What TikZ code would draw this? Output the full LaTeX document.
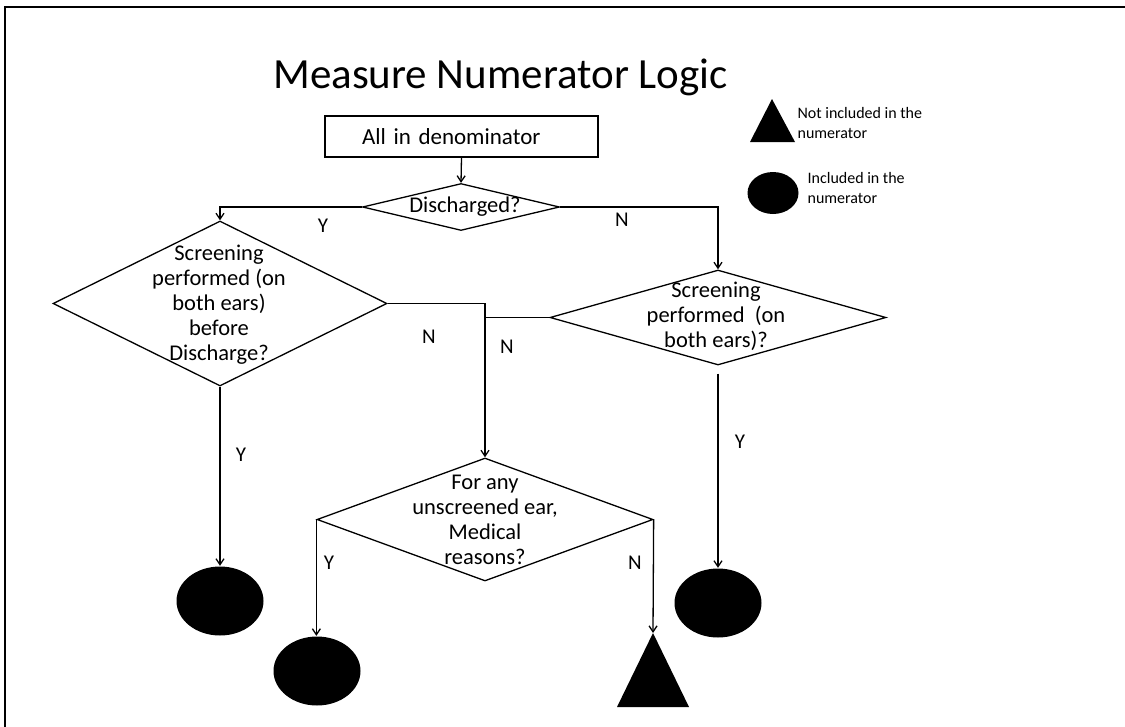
\documentclass[tikz,border=0pt]{standalone}
\usepackage{fontspec}
\setmainfont{Carlito}
\usetikzlibrary{shapes.geometric,arrows.meta}
\begin{document}
\begin{tikzpicture}[x=1pt,y=-1pt,
  line width=1.3pt,
  dia/.style={diamond, draw, inner sep=0pt, line width=1.3pt},
  txt/.style={align=center, font=\fontsize{22.5}{25}\selectfont, inner sep=0pt},
  lbl/.style={font=\fontsize{21}{24}\selectfont, inner sep=0pt},
  arr/.style={-{Straight Barb[length=6pt,width=8pt]}},
  dot/.style={ellipse, fill=black, inner sep=0pt, minimum width=87pt, minimum height=69pt},
  leg/.style={align=left, font=\fontsize{16}{20}\selectfont, inner sep=0pt, anchor=west}
]
\useasboundingbox (0,0) rectangle (1125,726);
\draw[line width=2.5pt] (5,730) -- (5,7) -- (1130,7);

\node[font=\fontsize{43}{50}\selectfont, anchor=base, inner sep=0pt] (title) at (500.5,88) {Measure Numerator Logic};

\node[draw, minimum height=41pt, text width=199pt, inner xsep=37pt, inner ysep=0pt, align=left, font=\fontsize{23}{25}\selectfont] (box) at (461.5,136.5) {All in denominator};

\node[dia, minimum width=197pt, minimum height=47pt] (d1) at (461,207) {};
\node[txt] (t1) at (465,207) {Discharged?};

\node[dia, minimum width=334pt, minimum height=165pt] (d2) at (220,303.5) {};
\node[txt] (t2) at (219,305) {Screening\\performed (on\\both ears)\\before\\Discharge?};

\node[dia, minimum width=336pt, minimum height=95pt] (d3) at (718,317.5) {};
\node[txt] (t3) at (716,316) {Screening\\performed\ \ (on\\both ears)?};

\node[dia, minimum width=336pt, minimum height=123pt] (d4) at (485,519.5) {};
\node[txt] (t4) at (485,520) {For any\\unscreened ear,\\Medical\\reasons?};

\node[dot] (c1) at (220,601) {};
\node[dot] (c2) at (317,671) {};
\node[dot] (c3) at (718,603) {};
\coordinate (tri) at (653,633);
\fill (tri) -- (617,707) -- (689,707) -- cycle;

% legend
\coordinate (ltri) at (772,99);
\fill (ltri) -- (750,142) -- (795,142) -- cycle;
\node[ellipse, fill=black, inner sep=0pt, minimum width=51pt, minimum height=42pt] (lc) at (773,193) {};
\node[leg] (lt1) at (797,123) {Not included in the\\numerator};
\node[leg] (lt2) at (807,188) {Included in the\\numerator};

% connectors
\draw[arr] (box.south) -- (d1.north);
\draw[arr] (d1.west) -| (d2.north);
\draw[arr] (d1.east) -| (d3.north);
\draw[arr] (d2.east) -| (d4.north);
\draw (d3.west) -- (d3.west -| d4.north);
\draw[arr] (d2.south) -- (c1.north);
\draw[arr, shorten <=8pt] (d3.south) -- (c3.north);
\draw[arr] (d4.west) -- (d4.west |- c2.north);
\draw[arr] (d4.east) -- (tri);

% labels
\node[lbl] (y1) at (323,226) {Y};
\node[lbl] (n1) at (622,220) {N};
\node[lbl] (n2) at (429,337) {N};
\node[lbl] (n3) at (507,347) {N};
\node[lbl] (y2) at (241,455) {Y};
\node[lbl] (y3) at (740,442) {Y};
\node[lbl] (y4) at (329,563) {Y};
\node[lbl] (n4) at (635,563) {N};
\end{tikzpicture}
\end{document}
